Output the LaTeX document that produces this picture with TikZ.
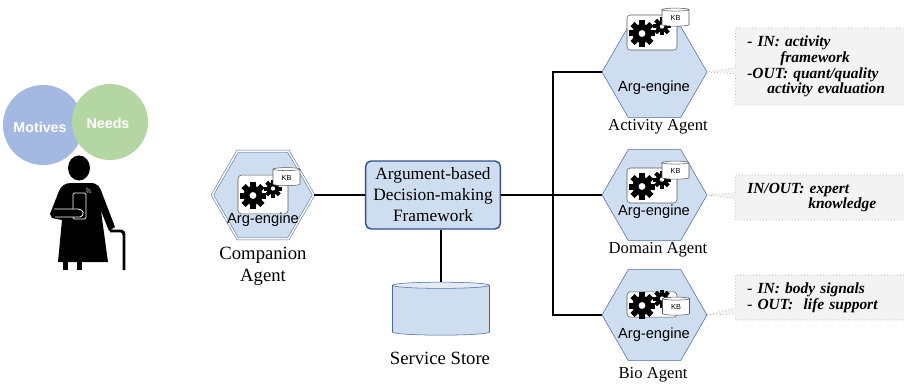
\documentclass[tikz,border=0pt]{standalone}
\usepackage{fontspec}
\setmainfont{Liberation Serif}
\setsansfont{Liberation Sans}
\usetikzlibrary{shapes.geometric, shapes.callouts, calc, positioning}

\definecolor{hexfill}{RGB}{206,222,240}
\definecolor{hexline}{RGB}{72,104,172}
\definecolor{boxline}{RGB}{47,82,150}
\definecolor{motive}{RGB}{164,185,225}
\definecolor{need}{RGB}{180,214,162}
\definecolor{notefill}{RGB}{243,243,243}

% gear: centre, body radius, tooth length, tooth half width
\newcommand{\cog}[4]{%
  \begin{scope}[shift={#1}]
    \fill circle (#2);
    \foreach \a in {0,45,...,315}
      \fill[rotate=\a] (-#4,0) rectangle (#4,#2+#3);
    \fill[white] circle (#2*0.36);
  \end{scope}}

\tikzset{
  engine/.pic={
    \node[draw=gray!70!black, fill=white, rounded corners=2.5pt,
          minimum width=37.5pt, minimum height=#1, inner sep=0pt] (-box) {};
    \cog{(-10,1)}{9.5}{3.8}{3}
    \cog{(10,-6)}{6}{3}{2}
  }
}

\begin{document}
\begin{tikzpicture}[x=0.75pt, y=-0.75pt]
  \tikzstyle{agent} = [regular polygon, regular polygon sides=6, draw=hexline,
                       fill=hexfill, minimum size=78.75pt, inner sep=0pt]
  \tikzstyle{wire} = [line width=1.1pt]
  \tikzstyle{agentlabel} = [font=\fontsize{12.5}{15}\selectfont, align=center]
  \tikzstyle{biglabel} = [font=\fontsize{14}{16.5}\selectfont, align=center]
  \tikzstyle{eng} = [font=\sffamily\fontsize{11}{13}\selectfont, inner sep=0pt]
  \tikzstyle{kb} = [cylinder, shape border rotate=90, aspect=0.3, draw=gray!70!black,
                    fill=white, minimum width=20.25pt, minimum height=13.5pt, inner sep=0pt,
                    font=\sffamily\fontsize{5.5}{6}\selectfont]
  \tikzstyle{notebox} = [rectangle callout, draw=gray, dotted, fill=notefill, anchor=west,
                         text width=120pt, inner xsep=9pt, align=left, callout pointer width=4.5pt,
                         font=\bfseries\itshape\fontsize{11.6}{11.8}\selectfont]

  \useasboundingbox (0,0) rectangle (904,385);
  \clip (0,0) rectangle (904,385);

  % the user: motives, needs and a person with phone and cane
  \fill[motive] (43,125) circle (40);
  \fill[need] (110,122) circle (38);
  \node[font=\sffamily\bfseries\fontsize{10.7}{12}\selectfont, text=white] (mot) at (40,127) {Motives};
  \node[font=\sffamily\bfseries\fontsize{10.7}{12}\selectfont, text=white] (nee) at (108,123) {Needs};

  \fill (79,168) ellipse (11 and 12.5);
  \fill (71,183) -- (90,183) .. controls (98,183) and (100,187) .. (102,193) -- (115,227)
        -- (109,231) -- (101,211) -- (108,262) -- (58,262) -- (62,220) -- (52,218)
        -- (50,214) -- (59,191) .. controls (61,186) and (65,183) .. (71,183) -- cycle;
  \fill (63,260) rectangle (68,270);
  \fill (77,260) rectangle (82,270);
  \draw[line width=2.2pt] (110,231) -- (121,231) to[out=0,in=90] (124,235) -- (124,270);
  \draw[white, fill=black, line width=0.6pt, rounded corners=1pt] (73,193) rectangle (86,219);
  \filldraw[fill=black, draw=white, line width=0.6pt] (54,209) -- (78,209)
        .. controls (84,209) and (85,216) .. (80,217) -- (55,217);
  \foreach \r in {2,3.5,5}
    \draw[gray, line width=0.5pt] (86,193) ++(0:\r) arc[start angle=0, end angle=-90, radius=\r];

  % agents
  \node[agent, double, double distance=1.2pt, minimum size=76pt] (comp) at (263,195) {};
  \node[agent] (act) at (654.5,72) {};
  \node[agent] (dom) at (654.5,195) {};
  \node[agent] (bio) at (654.5,315) {};

  \node[draw=boxline, line width=1.1pt, fill=hexfill, rounded corners=4pt, minimum width=101pt,
        minimum height=51pt, font=\fontsize{13}{15.8}\selectfont, align=center] (frame) at (433,195)
        {Argument-based\\Decision-making\\Framework};
  \node[cylinder, shape border rotate=90, aspect=0.7, draw=hexline, minimum width=72.75pt,
        minimum height=39.75pt, cylinder uses custom fill, cylinder body fill=hexfill,
        cylinder end fill=hexfill!60] (store) at (441,311) {};

  % engines
  \pic (compeng) at (263,194.5) {engine=29pt};
  \node[kb] (compkb) at (286.5,177.5) {KB};
  \node[eng] at (263,220) {Arg-engine};
  \pic (acteng) at (652,32.5) {engine=26.25pt};
  \node[kb] (actkb) at (675.5,18) {KB};
  \node[eng] at (654,88) {Arg-engine};
  \pic (domeng) at (652,185.5) {engine=26.25pt};
  \node[kb] (domkb) at (675.5,171) {KB};
  \node[eng] at (654,212) {Arg-engine};
  \pic (bioeng) at (652,304.5) {engine=19pt};
  \node[kb] (biokb) at (676,307) {KB};
  \node[eng] at (654,335) {Arg-engine};

  % labels
  \node[biglabel] (compname) at (263,266) {Companion\\Agent};
  \node[biglabel] (storename) at (440,358) {Service Store};
  \node[agentlabel] (actname) at (658,127) {Activity Agent};
  \node[agentlabel] (domname) at (658,250) {Domain Agent};
  \node[agentlabel] (bioname) at (653,375) {Bio Agent};

  % links
  \coordinate (bus) at (553,195);
  \draw[wire] (comp.east) -- (frame.west);
  \draw[wire] (frame.east) -- (bus);
  \draw[wire] (act.west) -| (bus) |- (bio.west);
  \draw[wire] (bus) -- (dom.west);
  \draw[wire] (frame.south -| store.north) -- (store.north);

  % in/out notes
  \node[notebox, minimum height=57.75pt, callout absolute pointer={(act.east)}] (actnote) at (735,66.5)
    {- IN: activity\\\hspace*{24.75pt}framework\\-OUT: quant/quality\\\hspace*{15pt}activity evaluation};
  \node[notebox, minimum height=33.75pt, callout absolute pointer={(dom.east)}] (domnote) at (735,197.5)
    {IN/OUT: expert\\\hspace*{45.75pt}knowledge};
  \node[notebox, minimum height=33.75pt, callout absolute pointer={(bio.east)}] (bionote) at (735,297.5)
    {- IN: body signals\\- OUT:\ \ life support};
\end{tikzpicture}
\end{document}
